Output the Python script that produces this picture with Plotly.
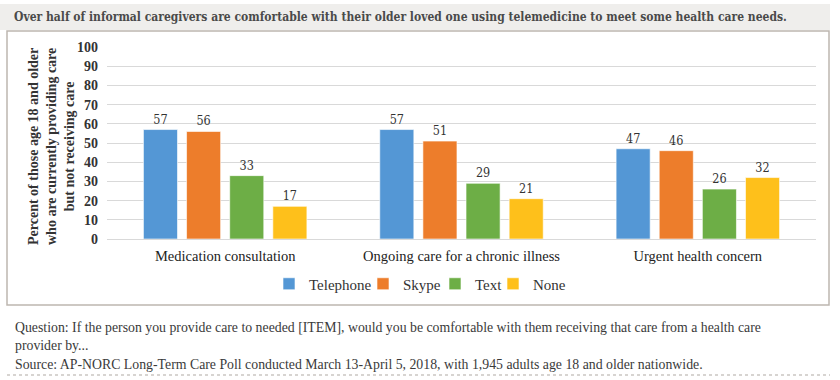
import plotly.graph_objects as go

categories = ["Medication consultation", "Ongoing care for a chronic illness", "Urgent health concern"]
series_names = ["Telephone", "Skype", "Text", "None"]
telephone = [57, 57, 47]
skype = [56, 51, 46]
text_vals = [33, 29, 26]
none_vals = [17, 21, 32]
y_ticks = [0, 10, 20, 30, 40, 50, 60, 70, 80, 90, 100]

title_text = "Over half of informal caregivers are comfortable with their older loved one using telemedicine to meet some health care needs."
y_title = "Percent of those age 18 and older<br>who are currently providing care<br>but not receiving care"
note_lines = [
    "Question: If the person you provide care to needed [ITEM], would you be comfortable with them receiving that care from a health care",
    "provider by...",
    "Source: AP-NORC Long-Term Care Poll conducted March 13-April 5, 2018, with 1,945 adults age 18 and older nationwide.",
]

colors = ["#5497D5", "#ED7D2B", "#6DAE46", "#FEC01B"]
values = [telephone, skype, text_vals, none_vals]
legend_marker_px = [289, 383, 455, 513]  # centre x of legend squares

W, H = 840, 380
L, R, T, B = 107, 816, 47, 239  # plot area in px
SERIF = "Liberation Serif"
SLAB = "DejaVu Serif Condensed, DejaVu Serif"

def px(x):
    return (x - L) / (R - L)

def py(y):
    return (B - y) / (B - T)

fig = go.Figure()
legend_layouts = {}
for i, (name, vals, col) in enumerate(zip(series_names, values, colors)):
    lname = "legend" if i == 0 else f"legend{i + 1}"
    fig.add_trace(go.Bar(
        x=categories, y=vals, name=name, legend=lname,
        marker=dict(color=col, line=dict(color="rgba(255,255,255,0.6)", width=1)),
        text=[str(v) for v in vals], textposition="outside",
        textfont=dict(family=SLAB, size=12.5, color="#333333"),
        cliponaxis=False,
    ))
    legend_layouts[lname] = dict(
        orientation="h", x=px(legend_marker_px[i] - 20), xanchor="left", y=py(284), yanchor="middle",
        font=dict(family=SERIF, size=15, color="#333333"), itemwidth=30,
        bgcolor="rgba(0,0,0,0)", borderwidth=0,
    )

shapes = [
    dict(type="rect", xref="paper", yref="paper", x0=px(0), x1=px(830), y0=py(4), y1=py(30),
         fillcolor="#EFEEEC", line=dict(width=0), layer="below"),
    dict(type="rect", xref="paper", yref="paper", x0=px(7), x1=px(829), y0=py(31), y1=py(305),
         fillcolor="rgba(0,0,0,0)", line=dict(color="#BDB6B0", width=1.5), layer="below"),
    dict(type="line", xref="paper", yref="paper", x0=px(7), x1=px(830), y0=py(375), y1=py(375),
         line=dict(color="#B0AAA4", width=1.2, dash="dot")),
]

annotations = [
    dict(text="<b>" + title_text + "</b>", xref="paper", yref="paper", x=px(12), y=py(17),
         xanchor="left", yanchor="middle", showarrow=False,
         font=dict(family=SLAB, size=12, color="#4A4A4A")),
    dict(text="<b>" + y_title + "</b>", xref="paper", yref="paper", x=px(51), y=py(147),
         xanchor="center", yanchor="middle", showarrow=False, textangle=-90,
         font=dict(family=SERIF, size=14, color="#333333")),
]
for i, line in enumerate(note_lines):
    annotations.append(dict(text=line, xref="paper", yref="paper", x=px(13), y=py(327 + 18.5 * i),
                            xanchor="left", yanchor="middle", showarrow=False,
                            font=dict(family=SERIF, size=13.8, color="#3A3A3A")))

fig.update_layout(
    width=W, height=H,
    margin=dict(l=L, r=W - R, t=T, b=H - B, pad=0),
    paper_bgcolor="white", plot_bgcolor="white",
    barmode="group", bargap=0.27, bargroupgap=0.21,
    showlegend=True,
    shapes=shapes, annotations=annotations,
    xaxis=dict(showline=True, linecolor="#D9D9D9", linewidth=1, ticks="",
               tickfont=dict(family=SERIF, size=14.5, color="#222222"), ticklabelstandoff=4),
    yaxis=dict(range=[0, 100], tickvals=y_ticks, showgrid=True, gridcolor="#D9D9D9", gridwidth=1,
               zeroline=False, showline=False, ticks="",
               tickfont=dict(family=SERIF, size=14, color="#333333", weight="bold"),
               ticklabelstandoff=8),
    **legend_layouts,
)

fig.write_html("out.html", config={"displayModeBar": False},
               post_script="document.body.style.margin='0';")
